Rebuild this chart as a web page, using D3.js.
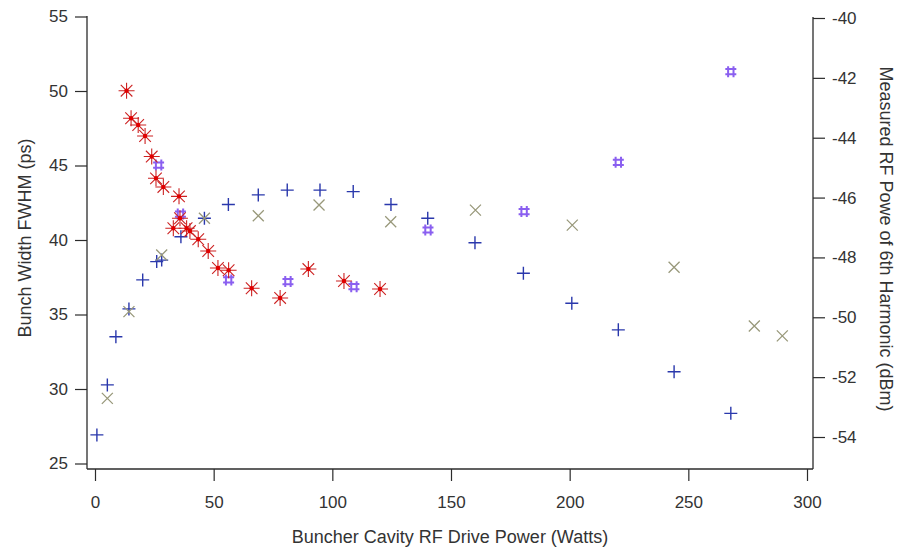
<!DOCTYPE html>
<html>
<head>
<meta charset="utf-8">
<script src="https://cdn.jsdelivr.net/npm/d3@7"></script>
<style>
  body { margin: 0; background: #fff; }
  svg { display: block; font-family: "Liberation Sans", Arial, Helvetica, sans-serif; }
</style>
</head>
<body>
<svg id="chart" width="899" height="548"></svg>
<script>
// Bunch width FWHM (ps) vs buncher drive power (W) -- left axis
const starPower = [13.3, 15.2, 18.2, 21.1, 23.9, 25.7, 28.8, 35.4, 35.8, 33.0, 38.6, 40.0, 43.5, 47.7, 51.8, 56.3, 66.0, 78.0, 89.9, 104.9, 120.1];
const starWidth = [50.02, 48.17, 47.72, 46.98, 45.60, 44.14, 43.56, 42.93, 41.46, 40.79, 40.79, 40.60, 40.05, 39.26, 38.12, 37.97, 36.76, 36.11, 38.05, 37.25, 36.71];

const hashPower = [26.8, 36.0, 56.3, 81.3, 109.1, 140.3, 180.8, 220.5, 267.9];
const hashWidth = [45.03, 41.74, 37.32, 37.21, 36.87, 40.67, 41.91, 45.21, 51.30];

// Measured 6th harmonic RF power (dBm) vs drive power (W) -- right axis
const plusPower = [0.8, 5.2, 8.8, 14.3, 20.1, 26.0, 28.1, 36.2, 46.1, 56.2, 68.8, 81.0, 94.8, 108.8, 124.7, 140.2, 160.1, 180.5, 200.9, 220.5, 244.0, 267.9];
const plusDbm   = [-53.93, -52.26, -50.65, -49.72, -48.75, -48.14, -48.09, -47.31, -46.69, -46.23, -45.91, -45.75, -45.75, -45.80, -46.23, -46.69, -47.51, -48.53, -49.53, -50.42, -51.82, -53.21];

const crossPower = [5.2, 14.3, 28.1, 46.1, 68.8, 94.4, 124.6, 160.3, 201.1, 244.0, 277.8, 289.6];
const crossDbm   = [-52.71, -49.81, -47.92, -46.69, -46.61, -46.25, -46.81, -46.42, -46.92, -48.33, -50.29, -50.62];

const xTicks = [0, 50, 100, 150, 200, 250, 300];
const leftTicks = [25, 30, 35, 40, 45, 50, 55];
const rightTicks = [-54, -52, -50, -48, -46, -44, -42, -40];

const xTitle = "Buncher Cavity RF Drive Power (Watts)";
const leftTitle = "Bunch Width FWHM (ps)";
const rightTitle = "Measured RF Powe of 6th Harmonic (dBm)";

// Plot frame (pixels)
const frame = { left: 87, right: 813, top: 16, bottom: 469 };

const x = d3.scaleLinear().domain([0, 300]).range([95, 807]);
const yL = d3.scaleLinear().domain([25, 55]).range([463.5, 16.5]);
const yR = d3.scaleLinear().domain([-54, -40]).range([437, 18]);

const svg = d3.select("#chart");
const axisColor = "#2b2b2b";
const tickFont = 17;

function styleAxis(g) {
  g.select(".domain").remove();
  g.selectAll(".tick line").attr("stroke", axisColor).attr("stroke-width", 1.2);
  g.selectAll(".tick text").attr("fill", "#333").style("font-size", tickFont + "px")
    .style("font-family", '"Liberation Sans", Arial, sans-serif');
}

// Plain hyphen for negative tick labels
const plainFmt = d => String(d);

// Axes
svg.append("g").attr("transform", `translate(${frame.left},0)`)
  .call(d3.axisLeft(yL).tickValues(leftTicks).tickFormat(plainFmt).tickSize(12).tickPadding(7))
  .call(styleAxis);

svg.append("g").attr("transform", `translate(${frame.right},0)`)
  .call(d3.axisRight(yR).tickValues(rightTicks).tickFormat(plainFmt).tickSize(12).tickPadding(7))
  .call(styleAxis);

svg.append("g").attr("transform", `translate(0,${frame.bottom})`)
  .call(d3.axisBottom(x).tickValues(xTicks).tickFormat(plainFmt).tickSize(12).tickPadding(15))
  .call(styleAxis);

// Axis lines
const lines = svg.append("g").attr("stroke", axisColor).attr("stroke-width", 1.3);
lines.append("line").attr("x1", frame.left).attr("x2", frame.left).attr("y1", frame.top).attr("y2", frame.bottom);
lines.append("line").attr("x1", frame.right).attr("x2", frame.right).attr("y1", frame.top + 1).attr("y2", frame.bottom);
lines.append("line").attr("x1", frame.left).attr("x2", frame.right).attr("y1", frame.bottom).attr("y2", frame.bottom);

// Titles
svg.append("text").attr("x", (frame.left + frame.right) / 2).attr("y", 543)
  .attr("text-anchor", "middle").attr("fill", "#333").style("font-size", "18px").text(xTitle);
svg.append("text").attr("transform", "translate(31,238) rotate(-90)")
  .attr("text-anchor", "middle").attr("fill", "#333").style("font-size", "18px").text(leftTitle);
svg.append("text").attr("transform", "translate(880,239) rotate(90)")
  .attr("text-anchor", "middle").attr("fill", "#333").style("font-size", "18px").text(rightTitle);

// Marker shapes
const plusPath = "M-6.5,0H6.5M0,-6.5V6.5";
const timesPath = "M-5.5,-5.5L5.5,5.5M-5.5,5.5L5.5,-5.5";
const hashPath = "M-2.7,-5.5V5.5M2.7,-5.5V5.5M-5.5,-2.6H5.5M-5.5,2.6H5.5";
const starPath = "M-8,0H8M0,-8V8M-5.8,-5.8L5.8,5.8M-5.8,5.8L5.8,-5.8";

function markers(xs, ys, yScale, path, stroke, width) {
  const data = xs.map((v, i) => ({ p: v, v: ys[i] }));
  const g = svg.append("g");
  g.selectAll("path").data(data).join("path")
    .attr("transform", d => `translate(${x(d.p)},${yScale(d.v)})`)
    .attr("d", path).attr("fill", "none").attr("stroke", stroke).attr("stroke-width", width);
  return { g, data };
}

markers(plusPower, plusDbm, yR, plusPath, "#2a38ac", 1.4);
markers(crossPower, crossDbm, yR, timesPath, "#98987a", 1.3);
markers(hashPower, hashWidth, yL, hashPath, "#8a5ff0", 2);
const stars = markers(starPower, starWidth, yL, starPath, "#cc2222", 1.1);
stars.g.selectAll("circle").data(stars.data).join("circle")
  .attr("cx", d => x(d.p)).attr("cy", d => yL(d.v)).attr("r", 2.2).attr("fill", "#e00000");
</script>
</body>
</html>
